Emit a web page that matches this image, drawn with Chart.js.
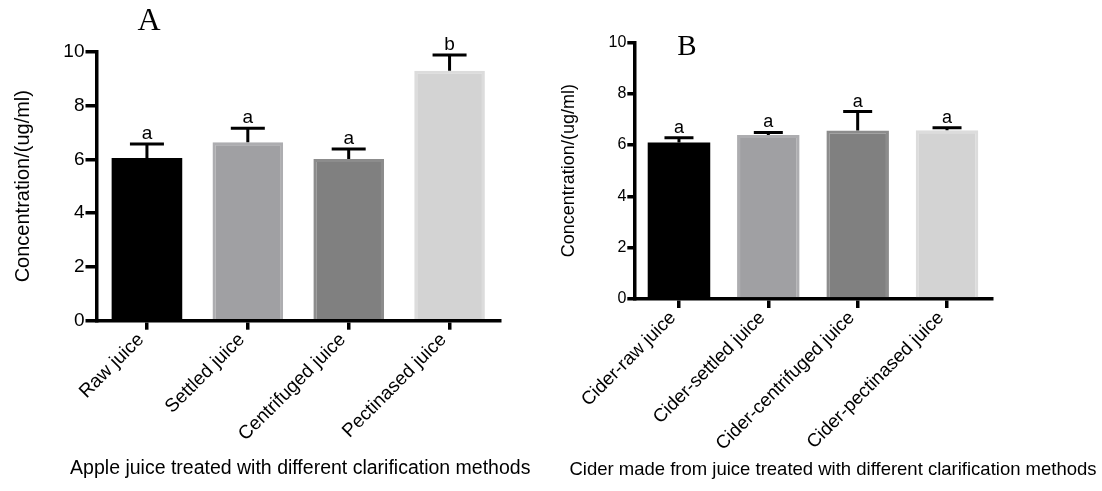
<!DOCTYPE html>
<html>
<head>
<meta charset="utf-8">
<script src="https://cdn.jsdelivr.net/npm/chart.js@4"></script>
<style>
  body { margin: 0; background: #fff; }
  canvas { position: absolute; top: 0; }
  #juiceCanvas { left: 0; }
  #ciderCanvas { left: 540px; }
</style>
</head>
<body>
<canvas id="juiceCanvas" width="540" height="491"></canvas>
<canvas id="ciderCanvas" width="562" height="491"></canvas>
<script>
const juiceLabels = ['Raw juice', 'Settled juice', 'Centrifuged juice', 'Pectinased juice']
const juiceMeans = [6.05, 6.63, 6.01, 9.29]
const juiceErrors = [0.52, 0.52, 0.37, 0.59]
const juiceLetters = ['a', 'a', 'a', 'b']

const ciderLabels = ['Cider-raw juice', 'Cider-settled juice', 'Cider-centrifuged juice', 'Cider-pectinased juice']
const ciderMeans = [6.10, 6.39, 6.56, 6.57]
const ciderErrors = [0.18, 0.10, 0.74, 0.10]
const ciderLetters = ['a', 'a', 'a', 'a']

const yMin = 0
const yMax = 10
const yStep = 2

const barFills = ['#000000', '#a0a0a3', '#808080', '#d3d3d3']
const barEdges = ['#000000', '#adadb0', '#8c8c8c', '#dcdcdc']
const barEdgeWidths = [0, 3, 3, 3]

Chart.defaults.font.family = '"Liberation Sans", Arial, sans-serif'
Chart.defaults.color = '#000'

// error bars, significance letters, panel letter and x title
const extrasPlugin = {
    id: 'extras',
    afterDatasetsDraw(chart, args, opts) {
        const ctx = chart.ctx
        const y = chart.scales.y
        const area = chart.chartArea
        ctx.save()
        ctx.strokeStyle = '#000'
        ctx.fillStyle = '#000'
        ctx.lineWidth = 3
        ctx.textAlign = 'center'
        ctx.textBaseline = 'alphabetic'
        ctx.font = opts.letterFont
        chart.getDatasetMeta(0).data.forEach((bar, i) => {
            const top = y.getPixelForValue(opts.means[i] + opts.errors[i])
            ctx.beginPath()
            ctx.moveTo(bar.x, bar.y)
            ctx.lineTo(bar.x, top)
            ctx.moveTo(bar.x - opts.capWidth / 2, top)
            ctx.lineTo(bar.x + opts.capWidth / 2, top)
            ctx.stroke()
            ctx.fillText(opts.letters[i], bar.x, top - 5)
        })
        ctx.font = opts.panelFont
        ctx.textBaseline = 'middle'
        ctx.fillText(opts.panel, opts.panelX, opts.panelY)
        ctx.font = opts.titleFont
        ctx.fillText(opts.xTitle, (area.left + area.right) / 2 + opts.xTitleShift, opts.xTitleY)
        ctx.restore()
    }
}

function makeChart(canvasId, labels, means, errors, letters, cfg) {
    return new Chart(document.getElementById(canvasId).getContext('2d'), {
        type: 'bar',
        data: {
            labels: labels,
            datasets: [{
                data: means,
                backgroundColor: barFills,
                borderColor: barEdges,
                borderWidth: barEdgeWidths,
                barPercentage: 0.7,
                categoryPercentage: 1
            }]
        },
        options: {
            responsive: false,
            animation: false,
            layout: {padding: {top: cfg.top, right: cfg.right, left: 0, bottom: 0}},
            plugins: {
                legend: {display: false},
                tooltip: {enabled: false},
                extras: {
                    means: means, errors: errors, letters: letters,
                    capWidth: cfg.capWidth,
                    letterFont: cfg.letterSize + 'px "Liberation Sans", Arial, sans-serif',
                    panel: cfg.panel, panelX: cfg.panelX, panelY: cfg.panelY,
                    panelFont: cfg.panelSize + 'px "Liberation Serif", "Times New Roman", serif',
                    xTitle: cfg.xTitle, xTitleY: cfg.xTitleY, xTitleShift: cfg.xTitleShift,
                    titleFont: cfg.xTitleSize + 'px "Liberation Sans", Arial, sans-serif'
                }
            },
            scales: {
                x: {
                    afterFit(scale) { scale.height = cfg.xHeight },
                    border: {color: '#000', width: 3.5},
                    grid: {display: true, drawOnChartArea: false, offset: false, color: '#000', lineWidth: 3.5, tickLength: 9},
                    ticks: {maxRotation: 45, minRotation: 45, autoSkip: false, padding: -1, labelOffset: -6, font: {size: cfg.xTickSize}}
                },
                y: {
                    min: yMin, max: yMax,
                    afterFit(scale) { scale.width = cfg.yWidth },
                    border: {color: '#000', width: 3.5},
                    grid: {display: true, drawOnChartArea: false, color: '#000', lineWidth: 3.5, tickLength: cfg.yTickLength},
                    ticks: {stepSize: yStep, padding: 1, font: {size: cfg.yTickSize}},
                    title: {
                        display: true,
                        text: 'Concentration/(ug/ml)',
                        font: {size: cfg.yTitleSize},
                        padding: {top: cfg.yTitlePad, bottom: 0}
                    }
                }
            }
        },
        plugins: [extrasPlugin]
    })
}

makeChart('juiceCanvas', juiceLabels, juiceMeans, juiceErrors, juiceLetters, {
    top: 51.7, right: 40, yWidth: 96.5, xHeight: 170.3,
    yTickLength: 11, yTickSize: 19, xTickSize: 19,
    yTitleSize: 20, yTitlePad: 11.5,
    capWidth: 34, letterSize: 19,
    panel: 'A', panelX: 149, panelY: 22, panelSize: 32,
    xTitle: 'Apple juice treated with different clarification methods', xTitleY: 469, xTitleShift: 2, xTitleSize: 19.5
})

makeChart('ciderCanvas', ciderLabels, ciderMeans, ciderErrors, ciderLetters, {
    top: 42.3, right: 110.3, yWidth: 94.3, xHeight: 192,
    yTickLength: 7, yTickSize: 16, xTickSize: 18.7,
    yTitleSize: 18, yTitlePad: 18.7,
    capWidth: 29, letterSize: 18,
    panel: 'B', panelX: 147, panelY: 47, panelSize: 29,
    xTitle: 'Cider made from juice treated with different clarification methods', xTitleY: 470, xTitleShift: 20, xTitleSize: 18.5
})
</script>
</body>
</html>
